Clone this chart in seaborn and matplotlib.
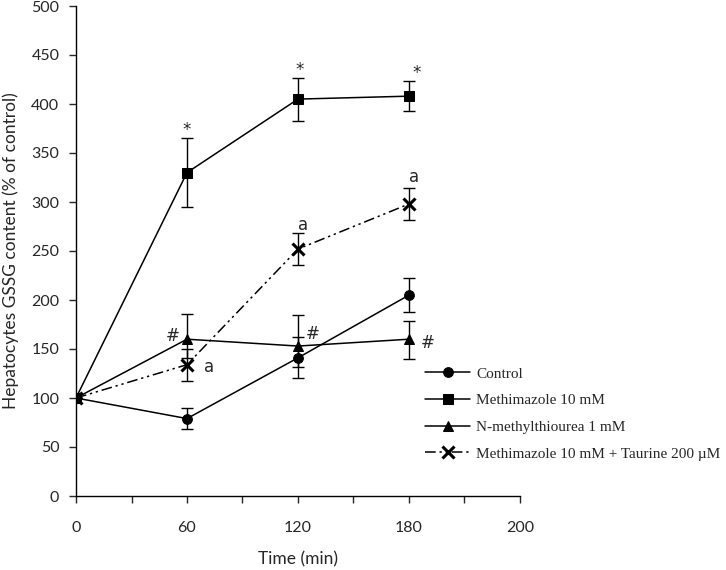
# GSSG content of hepatocytes over time
import pandas as pd
import matplotlib.pyplot as plt
import seaborn as sns

# axis is 0..240 but the last label was typed as "200" in the original
time = [0, 60, 120, 180]
x_ticks = [0, 30, 60, 90, 120, 150, 180, 210, 240]
x_ticklabels = ['0', '', '60', '', '120', '', '180', '', '200']

control = [100, 79, 141, 205]
control_err = [0, 10.5, 21, 17]

methimazole = [100, 330, 405, 408]
methimazole_err = [0, 35, 22, 15]

nmtu = [100, 160, 153, 160]
nmtu_err_low = [0, 19, 21, 20]
nmtu_err_high = [0, 26, 32, 19]

taurine = [100, 134, 252, 298]
taurine_err = [0, 16.5, 16.5, 16]

labels = ['Control', 'Methimazole 10 mM', 'N-methylthiourea 1 mM',
          'Methimazole 10 mM + Taurine 200 \u00b5M']

# significance marks: (text, x, y)
marks = [('*', 60, 373), ('*', 121, 435), ('*', 184, 432),
         ('a', 72, 132), ('a', 123, 277), ('a', 183, 325),
         ('#', 52, 163), ('#', 128, 165), ('#', 190, 156)]

sns.set_style('ticks')
plt.rcParams['font.family'] = ['Lato', 'DejaVu Sans']

fig = plt.figure(figsize=(7.26, 5.70), dpi=100)
ax = fig.add_axes([76 / 726, 1 - 496 / 570, (520 - 76) / 726, 490 / 570])

series = [
    (control, [control_err, control_err], 'o', 7, None),
    (methimazole, [methimazole_err, methimazole_err], 's', 6.5, None),
    (nmtu, [nmtu_err_low, nmtu_err_high], '^', 7.5, None),
    (taurine, [taurine_err, taurine_err], 'x', 8, (0, (7, 2.5, 1.5, 2.5, 1.5, 2.5))),
]

for (vals, err, mk, ms, ls), lab in zip(series, labels):
    df = pd.DataFrame({'time': time, 'value': vals})
    kw = dict(color='black', linewidth=1.1, marker=mk, markersize=ms,
              markeredgecolor='black', markerfacecolor='black', label=lab)
    if mk == 'x':
        kw['markeredgewidth'] = 2.2
    if ls is not None:
        kw['linestyle'] = ls
    sns.lineplot(data=df, x='time', y='value', ax=ax, **kw)
    ax.errorbar(time, vals, yerr=err, fmt='none', ecolor='black',
                elinewidth=1.0, capsize=4, capthick=1.0)

for txt, x, y in marks:
    ax.text(x, y, txt, ha='center', va='center', fontsize=12,
            family=['DejaVu Sans'])

ax.set_xlim(0, 240)
ax.set_ylim(0, 500)
ax.set_xticks(x_ticks)
ax.set_xticklabels(x_ticklabels)
ax.set_yticks(range(0, 501, 50))
ax.tick_params(labelsize=11.5, length=5, width=1, pad=13, axis='x')
ax.tick_params(labelsize=11.5, length=5, width=1, pad=7, axis='y')
ax.set_xlabel('Time (min)', fontsize=12.5, labelpad=12)
ax.set_ylabel('Hepatocytes GSSG content (% of control)', fontsize=12.5, labelpad=9)
for s in ['left', 'bottom']:
    ax.spines[s].set_linewidth(1)
    ax.spines[s].set_color('black')
sns.despine(ax=ax)

leg = ax.legend(loc='upper left', bbox_to_anchor=(425 / 726, 1 - 367 / 570),
                bbox_transform=fig.transFigure, frameon=False,
                prop={'family': 'Liberation Serif', 'size': 11},
                handlelength=2.95, handletextpad=0.4, labelspacing=0.85,
                borderpad=0, borderaxespad=0)

fig.savefig('out.png', dpi=100)
